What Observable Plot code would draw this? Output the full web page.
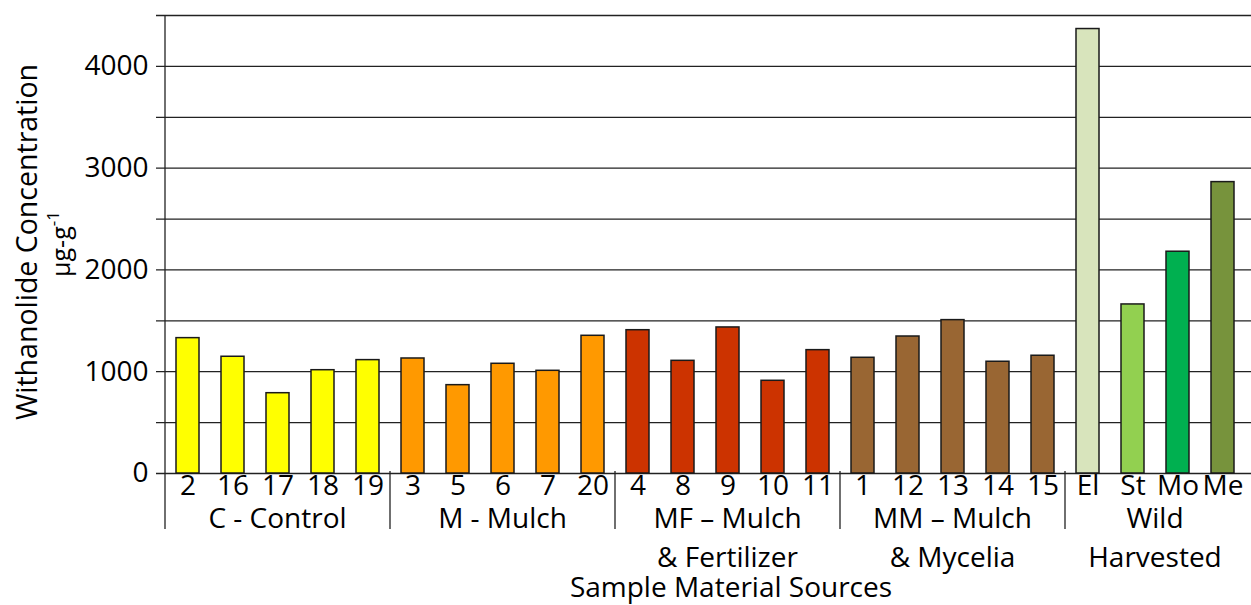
<!DOCTYPE html>
<html>
<head>
<meta charset="utf-8">
<script src="https://cdn.jsdelivr.net/npm/d3@7"></script>
<script src="https://cdn.jsdelivr.net/npm/@observablehq/plot@0.6"></script>
<style>
  html, body { margin: 0; padding: 0; background: #fff; }
  #chart { width: 1251px; height: 605px; }
</style>
</head>
<body>
<div id="chart"></div>
<script>
// ---- data ----
const categories = ["2","16","17","18","19","3","5","6","7","20","4","8","9","10","11","1","12","13","14","15","El","St","Mo","Me"];
const values = [1330,1147,789,1015,1114, 1130,868,1078,1009,1353, 1408,1107,1435,911,1212, 1137,1346,1507,1098,1157, 4367,1661,2179,2863];
const barColors = ["#ffff00","#ffff00","#ffff00","#ffff00","#ffff00",
  "#ff9900","#ff9900","#ff9900","#ff9900","#ff9900",
  "#cc3300","#cc3300","#cc3300","#cc3300","#cc3300",
  "#996633","#996633","#996633","#996633","#996633",
  "#d8e4bc","#92d050","#00b050","#77933c"];
const groupStarts = [0,5,10,15,20];
const groupEnds = [4,9,14,19,23];
const groupLabels = [["C - Control"],["M - Mulch"],["MF \u2013 Mulch","& Fertilizer"],["MM \u2013 Mulch","& Mycelia"],["Wild","Harvested"]];
const yTickValues = [0,1000,2000,3000,4000];
const gridValues = [0,500,1000,1500,2000,2500,3000,3500,4000,4500];
const yTitle = "Withanolide Concentration";
const yUnit = "\u00b5g-g";
const yUnitSup = "-1";
const xTitle = "Sample Material Sources";

const data = categories.map((c, i) => ({cat: c, value: values[i], color: barColors[i]}));

const FONT = "'Open Sans', 'DejaVu Sans', sans-serif";

const chart = Plot.plot({
  width: 1251,
  height: 605,
  marginLeft: 165,
  marginRight: 6,
  marginTop: 15,
  marginBottom: 132,
  style: {fontFamily: FONT, fontSize: "28px", color: "#000", background: "#fff", overflow: "visible"},
  x: {domain: categories, paddingInner: 0.49, paddingOuter: 0.245, align: 0.5, tickSize: 0, tickPadding: 2, label: null},
  y: {domain: [0, 4500], ticks: yTickValues, tickSize: 0, tickPadding: 17, tickFormat: d3.format("d"), label: null},
  color: {type: "identity"},
  marks: [
    Plot.ruleY(gridValues, {stroke: "#222", strokeWidth: 1.3, insetLeft: -9, insetRight: -6}),
    Plot.barY(data, {x: "cat", y: "value", fill: d => d.color, stroke: "#1a1a1a", strokeWidth: 1.5})
  ]
});

document.getElementById("chart").appendChild(chart);

// ---- extra annotations positioned with the plot's own scales ----
const sx = chart.scale("x");
const sy = chart.scale("y");
let xBand;
if (sx.apply) {
  xBand = v => sx.apply(v);
} else {
  const b = d3.scaleBand().domain(sx.domain).range(sx.range).paddingInner(sx.paddingInner).paddingOuter(sx.paddingOuter).align(sx.align);
  xBand = v => b(v);
}
const yS = sy.apply ? (v => sy.apply(v)) : d3.scaleLinear().domain(sy.domain).range(sy.range);
const bw = sx.bandwidth ?? 23;
const xc = c => xBand(c) + bw / 2;
const step = xc(categories[1]) - xc(categories[0]);
const y0 = yS(0);
const yTop = yS(4500);

const svg = d3.select(chart);
const g = svg.append("g").attr("font-family", FONT).attr("fill", "#000");

// vertical axis line
const axisX = xc(categories[0]) - step / 2;
g.append("line").attr("x1", axisX).attr("x2", axisX).attr("y1", yTop).attr("y2", y0 + 56)
  .attr("stroke", "#222").attr("stroke-width", 1.3);

// group separators
groupStarts.forEach((s, i) => {
  if (i === 0) return;
  const xs = xc(categories[s]) - step / 2;
  g.append("line").attr("x1", xs).attr("x2", xs).attr("y1", y0 - 2).attr("y2", y0 + 56)
    .attr("stroke", "#222").attr("stroke-width", 1.3);
});

// group labels
groupStarts.forEach((s, i) => {
  const cx = (xc(categories[s]) + xc(categories[groupEnds[i]])) / 2;
  groupLabels[i].forEach((line, j) => {
    g.append("text").attr("x", cx).attr("y", y0 + 55 + j * 39)
      .attr("text-anchor", "middle").attr("font-size", 28).text(line);
  });
});

// x title
g.append("text").attr("x", 731).attr("y", 597).attr("text-anchor", "middle").attr("font-size", 28).text(xTitle);

// y title
g.append("text").attr("transform", "translate(37,242) rotate(-90)").attr("text-anchor", "middle")
  .attr("font-size", 28.5).text(yTitle);
const ut = g.append("text").attr("transform", "translate(70,244) rotate(-90)").attr("text-anchor", "middle")
  .attr("font-size", 25);
ut.append("tspan").text(yUnit);
ut.append("tspan").attr("dy", -11).attr("font-size", 17).text(yUnitSup);
</script>
</body>
</html>
